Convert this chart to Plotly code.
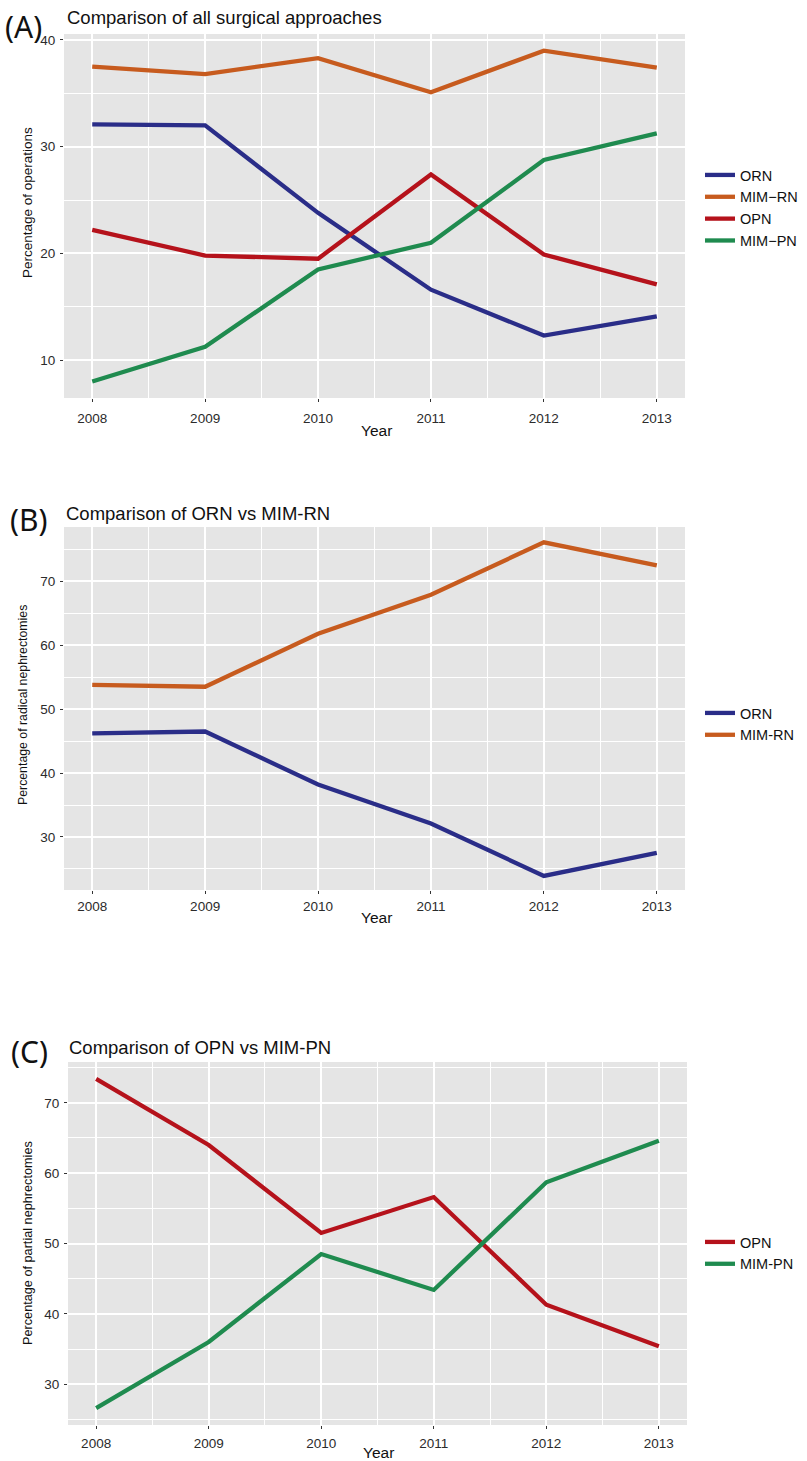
import plotly.graph_objects as go

W, H = 807, 1461

years = [2008, 2009, 2010, 2011, 2012, 2013]

# Panel A: all surgical approaches (% of operations)
a_orn = [32.1, 32.0, 23.8, 16.6, 12.3, 14.1]
a_mimrn = [37.5, 36.8, 38.3, 35.1, 39.0, 37.4]
a_opn = [22.2, 19.8, 19.5, 27.4, 19.9, 17.1]
a_mimpn = [8.0, 11.25, 18.5, 21.0, 28.75, 31.25]

# Panel B: ORN vs MIM-RN (% of radical nephrectomies)
b_orn = [46.2, 46.5, 38.2, 32.1, 23.9, 27.5]
b_mimrn = [53.8, 53.5, 61.8, 67.9, 76.1, 72.5]

# Panel C: OPN vs MIM-PN (% of partial nephrectomies)
c_opn = [73.4, 64.0, 51.5, 56.6, 41.3, 35.4]
c_mimpn = [26.6, 36.0, 48.5, 43.4, 58.7, 64.6]

COL = {"ORN": "#2a2d88", "MIM-RN": "#c75b1e", "OPN": "#b5121b", "MIM-PN": "#1f8b4f"}


def px(x):
    return x / W


def py(y):
    return 1 - y / H


fig = go.Figure()

panels = [
    ("x", "y", "legend", 64, 685, 34, 398, [6.45, 40.56],
     [("ORN", a_orn, "ORN"), ("MIM−RN", a_mimrn, "MIM-RN"), ("OPN", a_opn, "OPN"), ("MIM−PN", a_mimpn, "MIM-PN")]),
    ("x2", "y2", "legend2", 64, 685, 527, 890, [21.7, 78.5],
     [("ORN", b_orn, "ORN"), ("MIM-RN", b_mimrn, "MIM-RN")]),
    ("x3", "y3", "legend3", 68, 687, 1062, 1425, [24.2, 75.8],
     [("OPN", c_opn, "OPN"), ("MIM-PN", c_mimpn, "MIM-PN")]),
]

axis_font = dict(family="Liberation Sans, Arial, sans-serif", size=13.5, color="#2b2b2b")

for i, (xa, ya, lg, l, r, t, b, yr, series) in enumerate(panels):
    for name, vals, key in series:
        fig.add_trace(go.Scatter(
            x=years, y=vals, name=name, mode="lines",
            line=dict(color=COL[key], width=4.3),
            xaxis=xa, yaxis=ya, legend=lg,
        ))
    sfx = "" if i == 0 else str(i + 1)
    fig.layout["xaxis" + sfx] = dict(
        domain=[px(l), px(r)], anchor=ya, range=[2007.75, 2013.25],
        tickmode="linear", tick0=2008, dtick=1, showgrid=True,
        gridcolor="white", gridwidth=1.6, zeroline=False,
        ticks="outside", ticklen=3, tickcolor="#333333", tickwidth=1,
        tickfont=axis_font, showline=False,
        minor=dict(showgrid=True, gridcolor="white", gridwidth=0.7, dtick=0.5, tick0=2007.5, ticks=""),
        ticklabelstandoff=[5, 1, 3][i],
    )
    fig.layout["yaxis" + sfx] = dict(
        domain=[py(b), py(t)], anchor=xa, range=yr,
        tickmode="linear", tick0=0, dtick=10, showgrid=True,
        gridcolor="white", gridwidth=1.6, zeroline=False,
        ticks="outside", ticklen=3, tickcolor="#333333", tickwidth=1,
        tickfont=axis_font, showline=False,
        minor=dict(showgrid=True, gridcolor="white", gridwidth=0.7, dtick=5, tick0=0, ticks=""),
        ticklabelstandoff=2,
    )

for (xa, ya, lg, l, r, t, b, yr, series) in panels:
    fig.add_shape(type="rect", xref="paper", yref="paper",
                  x0=px(l), x1=px(r), y0=py(b), y1=py(t),
                  fillcolor="#e5e5e5", line=dict(width=0), layer="below")

sans = "Liberation Sans, Arial, sans-serif"
title_font = dict(family=sans, size=18.5, color="#111111")
label_font = dict(family="Noto Sans, Lato, sans-serif", size=30, color="#111111")

annotations = [
    dict(text="Comparison of all surgical approaches", x=px(65), y=py(18), xanchor="left", yanchor="middle", font=title_font),
    dict(text="Comparison of ORN vs MIM-RN", x=px(64), y=py(514), xanchor="left", yanchor="middle", font=title_font),
    dict(text="Comparison of OPN vs MIM-PN", x=px(67), y=py(1047), xanchor="left", yanchor="middle", font=title_font),
    dict(text="(A)", x=px(3), y=py(27), xanchor="left", yanchor="middle", font=label_font),
    dict(text="(B)", x=px(8), y=py(519), xanchor="left", yanchor="middle", font=label_font),
    dict(text="(C)", x=px(9), y=py(1051), xanchor="left", yanchor="middle", font=label_font),
    dict(text="Year", x=px(376), y=py(431), xanchor="center", yanchor="middle",
         font=dict(family=sans, size=15.5, color="#111111")),
    dict(text="Year", x=px(376), y=py(917), xanchor="center", yanchor="middle",
         font=dict(family=sans, size=15.5, color="#111111")),
    dict(text="Year", x=px(378), y=py(1452), xanchor="center", yanchor="middle",
         font=dict(family=sans, size=15.5, color="#111111")),
    dict(text="Percentage of operations", x=px(28), y=py(203), xanchor="center", yanchor="middle", textangle=-90,
         font=dict(family=sans, size=13.5, color="#111111")),
    dict(text="Percentage of radical nephrectomies", x=px(23), y=py(705), xanchor="center", yanchor="middle", textangle=-90,
         font=dict(family=sans, size=12.3, color="#111111")),
    dict(text="Percentage of partial nephrectomies", x=px(28), y=py(1243), xanchor="center", yanchor="middle", textangle=-90,
         font=dict(family=sans, size=12.7, color="#111111")),
]
for a in annotations:
    a.update(xref="paper", yref="paper", showarrow=False)

leg_common = dict(xanchor="left", yanchor="top", bgcolor="rgba(0,0,0,0)", borderwidth=0,
                  font=dict(family=sans, size=14.5, color="#111111"),
                  tracegroupgap=0, itemwidth=30)

fig.update_layout(
    width=W, height=H,
    margin=dict(l=0, r=0, t=0, b=0),
    paper_bgcolor="white", plot_bgcolor="rgba(0,0,0,0)",
    showlegend=True,
    annotations=annotations,
    legend=dict(x=px(700), y=py(159), **leg_common),
    legend2=dict(x=px(700), y=py(697), **leg_common),
    legend3=dict(x=px(700), y=py(1226), **leg_common),
)

fig.write_html("out.html")
